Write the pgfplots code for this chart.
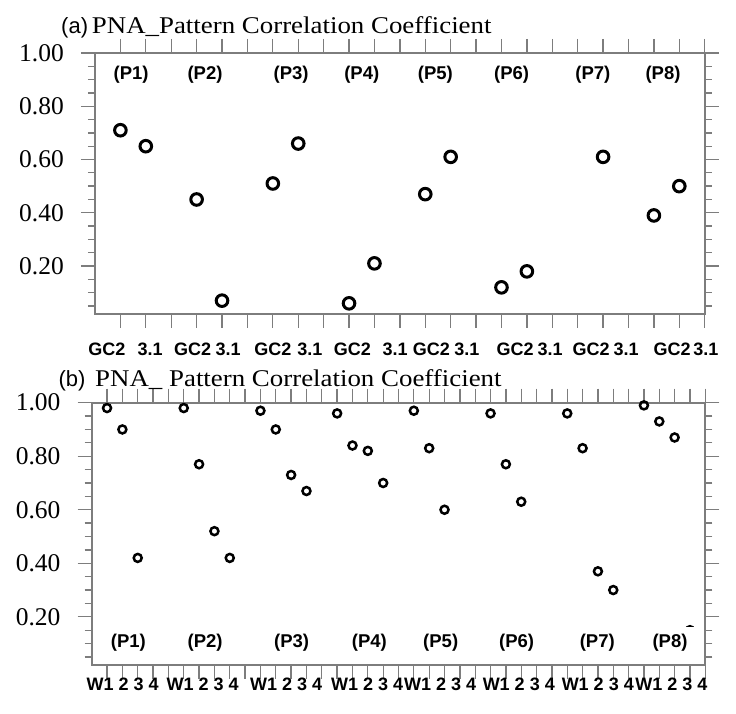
\documentclass[border=0pt]{standalone}
\usepackage{fontspec}
\setmainfont{Liberation Serif}
\newfontfamily\arial{Liberation Sans}
\newfontfamily\titlefont[FakeStretch=1.12]{Liberation Serif}
\usepackage{pgfplots}
\pgfplotsset{compat=1.18}
\definecolor{axgray}{RGB}{125,125,125}
\pgfplotsset{
  myaxis/.style={
    scale only axis, xmin=0, ymin=0.02, ymax=1,
    axis line style={axgray, line width=1.8pt},
    every tick/.style={axgray, line width=1.3pt},
    tick align=outside, major tick length=14pt, minor tick length=7pt,
    xtick pos=both, ytick pos=both, xticklabel pos=lower, yticklabel pos=left,
    ytick={0.2,0.4,0.6,0.8,1.0}, yticklabels={0.20,0.40,0.60,0.80,1.00},
    minor ytick={0.05,0.1,0.15,0.25,0.3,0.35,0.45,0.5,0.55,0.65,0.7,0.75,0.85,0.9,0.95},
    yticklabel style={font=\fontsize{25.5}{25.5}\selectfont, anchor=east, inner sep=0pt, xshift=-17pt},
    xticklabels={},
    clip=false,
  },
}
\tikzset{
  plab/.style={font=\arial\bfseries\fontsize{18.5}{18.5}\selectfont, inner xsep=9pt, inner ysep=7pt},
  blab/.style={font=\arial\bfseries\fontsize{18}{18}\selectfont, anchor=base, inner sep=0pt},
}
\begin{document}
\begin{tikzpicture}
\path[use as bounding box] (0pt,0pt) rectangle (736pt,714pt);
% ---------- panel (a)
\begin{axis}[myaxis, at={(95pt,661pt)}, anchor=north west, width=609.7pt, height=261pt,
  xmax=24, xtick={1,...,24}]
\addplot[only marks, mark=o, mark size=5.8pt, line width=3pt, black] coordinates {
 (1,0.71) (2,0.65)
 (4,0.45) (5,0.07)
 (7,0.51) (8,0.66)
 (10,0.06) (11,0.21)
 (13,0.47) (14,0.61)
 (16,0.12) (17,0.18)
 (20,0.61)
 (22,0.39) (23,0.50)
};
\node[plab] at (axis cs:1.42,0.917) {(P1)};
\node[plab] at (axis cs:4.33,0.917) {(P2)};
\node[plab] at (axis cs:7.72,0.917) {(P3)};
\node[plab] at (axis cs:10.5,0.917) {(P4)};
\node[plab] at (axis cs:13.4,0.917) {(P5)};
\node[plab] at (axis cs:16.4,0.917) {(P6)};
\node[plab] at (axis cs:19.6,0.917) {(P7)};
\node[plab] at (axis cs:22.36,0.917) {(P8)};
\pgfplotsinvokeforeach{0.47,3.84,7.0,10.13,13.24,16.54,19.53,22.72}{
  \node[blab, yshift=-41.7pt] at (axis cs:#1,0.02) {GC2};}
\pgfplotsinvokeforeach{2.17,5.24,8.46,11.81,14.64,17.92,20.91,24.05}{
  \node[blab, yshift=-41.7pt] at (axis cs:#1,0.02) {3.1};}
\end{axis}
\node[anchor=base west, inner sep=0pt] at (61pt,680.7pt) {\arial\fontsize{22}{22}\selectfont (a)};
\node[anchor=base west, inner sep=0pt] at (91.7pt,680.7pt) {\titlefont\fontsize{24}{24}\selectfont PNA\_Pattern Correlation Coefficient};
% ---------- panel (b)
\begin{axis}[myaxis, at={(91.7pt,311.3pt)}, anchor=north west, width=613.6pt, height=262.3pt,
  xmax=40, xtick={1,...,40}]
\addplot[only marks, mark=o, mark size=4pt, line width=2.5pt, black] coordinates {
 (1,0.98) (2,0.90) (3,0.42)
 (6,0.98) (7,0.77) (8,0.52) (9,0.42)
 (11,0.97) (12,0.90) (13,0.73) (14,0.67)
 (16,0.96) (17,0.84) (18,0.82) (19,0.70)
 (21,0.97) (22,0.83) (23,0.60)
 (26,0.96) (27,0.77) (28,0.63)
 (31,0.96) (32,0.83) (33,0.37) (34,0.30)
 (36,0.99) (37,0.93) (38,0.87) (39,0.15)
};
\coordinate (q1) at (axis cs:2.39,0.105);
\coordinate (q2) at (axis cs:7.39,0.105);
\coordinate (q3) at (axis cs:13.03,0.105);
\coordinate (q4) at (axis cs:18.1,0.105);
\coordinate (q5) at (axis cs:22.75,0.105);
\coordinate (q6) at (axis cs:27.7,0.105);
\coordinate (q7) at (axis cs:32.96,0.105);
\coordinate (q8) at (axis cs:37.7,0.105);
\pgfplotsinvokeforeach{2.01,7.23,12.68,17.96,22.72,27.84,32.99,37.79}{
  \node[blab, yshift=-26pt] at (axis cs:#1,0.02) {W1 2 3 4};}
\end{axis}
\node[plab, fill=white] at (q1) {(P1)};
\node[plab, fill=white] at (q2) {(P2)};
\node[plab, fill=white] at (q3) {(P3)};
\node[plab, fill=white] at (q4) {(P4)};
\node[plab, fill=white] at (q5) {(P5)};
\node[plab, fill=white] at (q6) {(P6)};
\node[plab, fill=white] at (q7) {(P7)};
\node[plab, fill=white] at (q8) {(P8)};
\node[anchor=base west, inner sep=0pt] at (58.3pt,327.3pt) {\arial\fontsize{22}{22}\selectfont (b)};
\node[anchor=base west, inner sep=0pt] at (95pt,327.3pt) {\titlefont\fontsize{24}{24}\selectfont PNA\_ Pattern Correlation Coefficient};
\end{tikzpicture}
\end{document}
